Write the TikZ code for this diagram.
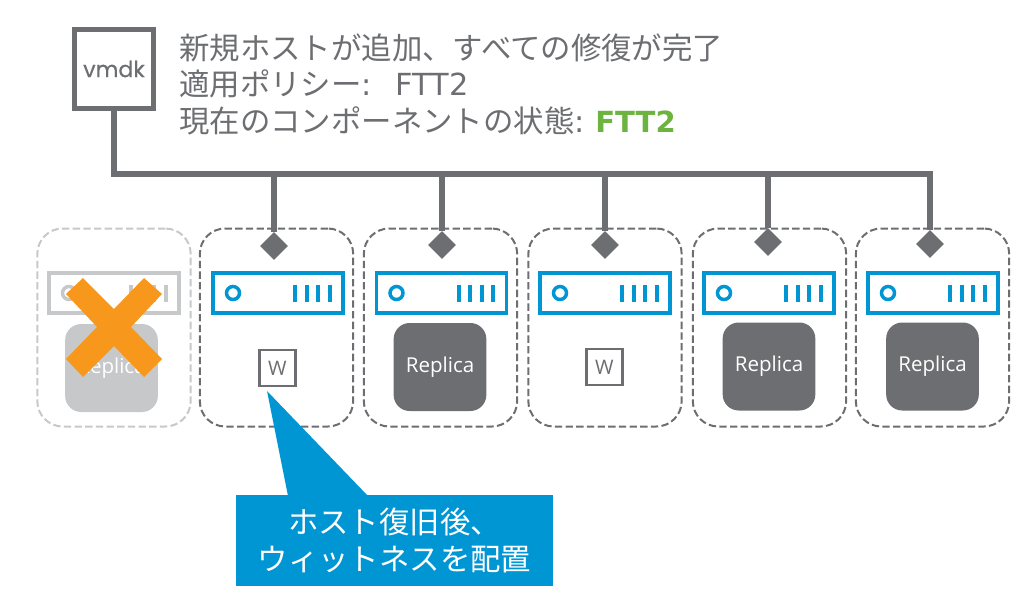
\documentclass[tikz,border=0pt]{standalone}
\usepackage{fontspec}
\usetikzlibrary{shapes.geometric}
\setmainfont{DejaVu Sans}
\newfontfamily\jpfont{Noto Sans CJK JP}
\newfontfamily\replicafont{Open Sans}
\newfontfamily\vmdkfont[FakeBold=0.6]{Poppins}
\definecolor{slategray}{HTML}{6D6E71}
\definecolor{fadedgray}{HTML}{C7C8CA}
\definecolor{srvblue}{HTML}{0095D3}
\definecolor{crossorange}{HTML}{F7981D}
\definecolor{okgreen}{HTML}{6DB33F}
\begin{document}
\begin{tikzpicture}[
    x=0.75pt, y=-0.75pt,
    hostbox/.style={draw=slategray, dashed, dash pattern=on 5.5pt off 2.5pt, line width=1.5pt, rounded corners=19pt, minimum width=115pt, minimum height=148.5pt},
    faded/.style={draw=fadedgray},
    replica/.style={fill=slategray, rounded corners=12pt, minimum width=69.5pt, minimum height=66pt, text=white, font=\replicafont\fontsize{15.4}{18}\selectfont},
    witness/.style={draw=slategray, fill=white, line width=2.2pt, minimum size=27pt, inner sep=0pt, text=slategray, font=\replicafont\fontsize{15}{18}\selectfont},
    port/.style={diamond, fill=slategray, inner sep=0pt, minimum size=21pt},
    bus/.style={draw=slategray, line width=4.2pt},
    pics/server/.style={code={
        \draw[#1, line width=2.7pt] (-65,-20) rectangle (65,20);
        \draw[#1, line width=2.6pt] (-45,0) circle[radius=6.5];
        \draw[#1, line width=3pt] (17,-8.5) -- (17,8.5) (28.5,-8.5) -- (28.5,8.5) (40,-8.5) -- (40,8.5) (51.5,-8.5) -- (51.5,8.5);
    }},
]
    \useasboundingbox (0,0) rectangle (1024,603);

    % vmdk and status text
    \node[draw=slategray, line width=3.4pt, minimum size=59pt, inner sep=0pt, text=slategray, font=\vmdkfont\fontsize{16.6}{19}\selectfont] (vmdk) at (114,69) {vmdk};
    \node[anchor=west, align=left, inner sep=0pt, text=slategray, font=\fontsize{22.8}{27.4}\selectfont] (status) at (179,84) {%
        {\jpfont 新規ホストが追加、すべての修復が完了}\\
        {\jpfont 適用ポリシー}:\hspace{18pt}FTT2\\
        {\jpfont 現在のコンポーネントの状態}:\hspace{8pt}\textcolor{okgreen}{\bfseries\fontsize{21.8}{27.4}\selectfont FTT2}};

    % Hosts
    \node[hostbox, faded] (host1) at (114,327.5) {};
    \node[hostbox] (host2) at (276.5,327.5) {};
    \node[hostbox] (host3) at (440.5,327.5) {};
    \node[hostbox] (host4) at (605,327.5) {};
    \node[hostbox] (host5) at (769.5,327.5) {};
    \node[hostbox] (host6) at (932.5,327.5) {};

    % Servers
    \pic at (114,293) {server=fadedgray};
    \pic at (278,293) {server=srvblue};
    \pic at (441.5,293) {server=srvblue};
    \pic at (605,293) {server=srvblue};
    \pic at (769,293) {server=srvblue};
    \pic at (933,293) {server=srvblue};

    % Components
    \node[replica, fill=fadedgray] (rep1) at (111.5,368) {Replica};
    \node[witness] (wit2) at (277.5,368) {W};
    \node[replica] (rep3) at (440,367) {Replica};
    \node[witness] (wit4) at (604.5,367) {W};
    \node[replica] (rep5) at (769,366.5) {Replica};
    \node[replica] (rep6) at (932.5,366.5) {Replica};

    % Failed host
    \fill[crossorange] (66,294) -- (83,278) -- (114,309) -- (144,278) -- (162,294) -- (131,327) -- (162,359) -- (144,377) -- (114,346) -- (83,377) -- (66,359) -- (97,327) -- cycle;

    % Ports
    \node[port] (port2) at (274,246) {};
    \node[port] (port3) at (442,245) {};
    \node[port] (port4) at (605,245) {};
    \node[port] (port5) at (768,242) {};
    \node[port] (port6) at (930,244) {};

    % Bus
    \coordinate (tap2) at (274,174);
    \coordinate (tap3) at (442,174);
    \coordinate (tap4) at (605,174);
    \coordinate (tap5) at (768,174);
    \coordinate (tap6) at (930,174);
    \draw[bus, line join=miter] (vmdk.south) |- (tap6) -- (port6);
    \draw[bus] (tap2) -- (port2);
    \draw[bus] (tap3) -- (port3);
    \draw[bus] (tap4) -- (port4);
    \draw[bus] (tap5) -- (port5);

    % Callout
    \coordinate (tip) at (267,391);
    \node[fill=srvblue, minimum width=237.75pt, minimum height=68.25pt, inner sep=0pt, align=center, text=white, font=\jpfont\fontsize{22.8}{27.4}\selectfont] (note) at (394.5,540.5) {ホスト復旧後、\\ウィットネスを配置};
    \fill[srvblue] (tip) -- (368,496) -- (288,496) -- cycle;
\end{tikzpicture}
\end{document}
